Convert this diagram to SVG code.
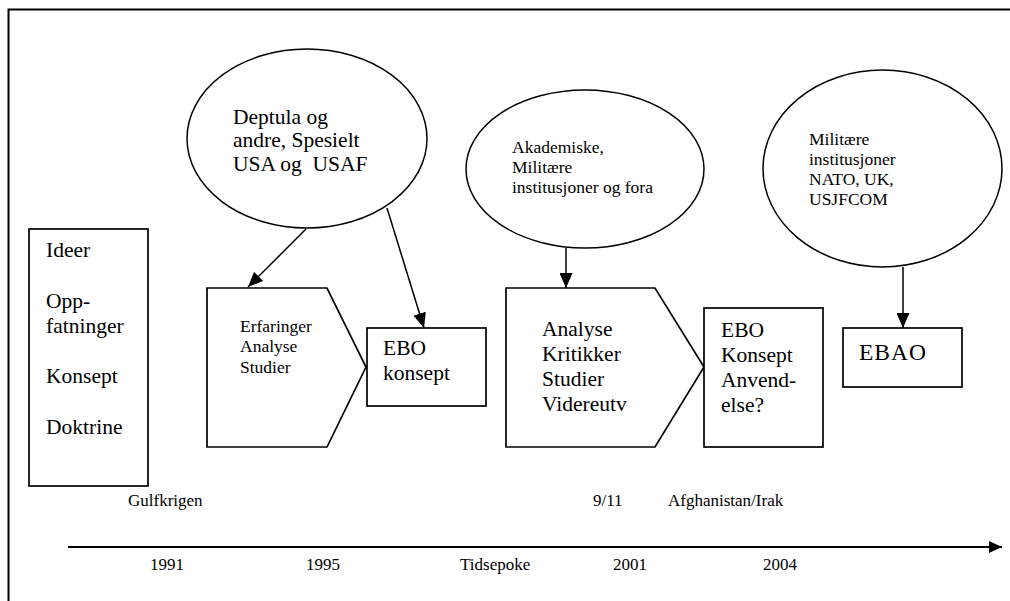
<svg xmlns="http://www.w3.org/2000/svg" width="1010" height="601" viewBox="0 0 1010 601">
  <style>
    .shape { fill: #ffffff; stroke: #000000; stroke-width: 1.7; }
    .oval { fill: #ffffff; stroke: #000000; stroke-width: 1.5; }
    .link { fill: none; stroke: #000000; stroke-width: 1.5; }
    .big { font-family: "Liberation Serif", "Times New Roman", serif; font-size: 21.5px; fill: #000000; }
    .small { font-family: "Liberation Serif", "Times New Roman", serif; font-size: 17.5px; fill: #000000; }
    .time { font-family: "Liberation Serif", "Times New Roman", serif; font-size: 17px; fill: #000000; }
  </style>
  <defs>
    <marker id="head" viewBox="0 0 10 10" refX="10" refY="5" markerWidth="15" markerHeight="13" markerUnits="userSpaceOnUse" orient="auto" preserveAspectRatio="none">
      <path d="M0,0 L10,5 L0,10 Z" fill="#000000"/>
    </marker>
    <marker id="axisHead" viewBox="0 0 10 10" refX="10" refY="5" markerWidth="13" markerHeight="12" markerUnits="userSpaceOnUse" orient="auto" preserveAspectRatio="none">
      <path d="M0,0 L10,5 L0,10 Z" fill="#000000"/>
    </marker>
  </defs>

  <rect width="1010" height="601" fill="#ffffff"/>

  <!-- page frame -->
  <path d="M8.5,601 L8.5,9.5 L1010,9.5" fill="none" stroke="#000000" stroke-width="2"/>

  <!-- connectors -->
  <g id="connectors">
    <line class="link" x1="306" y1="229" x2="248" y2="287" marker-end="url(#head)"/>
    <line class="link" x1="387" y1="208" x2="424" y2="328" marker-end="url(#head)"/>
    <line class="link" x1="566" y1="248" x2="566" y2="288" marker-end="url(#head)"/>
    <line class="link" x1="903" y1="267" x2="903" y2="328" marker-end="url(#head)"/>
    <line x1="68" y1="547" x2="1002" y2="547" stroke="#000000" stroke-width="2" marker-end="url(#axisHead)"/>
  </g>

  <g id="node-stages">
    <rect class="shape" x="29" y="229" width="119" height="257"/>
    <text class="big" x="46" y="257">Ideer</text>
    <text class="big" x="46" y="308">Opp-</text>
    <text class="big" x="46" y="333">fatninger</text>
    <text class="big" x="46" y="383">Konsept</text>
    <text class="big" x="46" y="434">Doktrine</text>
  </g>

  <g id="node-deptula">
    <ellipse class="oval" cx="307" cy="138.5" rx="120" ry="89.5"/>
    <text class="big" x="233" y="124">Deptula og</text>
    <text class="big" x="233" y="147">andre, Spesielt</text>
    <text class="big" x="233" y="171" xml:space="preserve">USA og  USAF</text>
  </g>

  <g id="node-erfaringer">
    <polygon class="shape" points="207,288 327,288 366,367 327,447 207,447"/>
    <text class="small" x="240" y="332">Erfaringer</text>
    <text class="small" x="240" y="352">Analyse</text>
    <text class="small" x="240" y="373">Studier</text>
  </g>

  <g id="node-ebo-konsept">
    <rect class="shape" x="367" y="328" width="119" height="78"/>
    <text class="big" x="383" y="355">EBO</text>
    <text class="big" x="383" y="380">konsept</text>
  </g>

  <g id="node-akademiske">
    <ellipse class="oval" cx="585" cy="169" rx="119" ry="79"/>
    <text class="small" x="512" y="153">Akademiske,</text>
    <text class="small" x="512" y="173">Militære</text>
    <text class="small" x="512" y="193">institusjoner og fora</text>
  </g>

  <g id="node-analyse">
    <polygon class="shape" points="506,288 655,288 704,367 655,447 506,447"/>
    <text class="big" x="542" y="336">Analyse</text>
    <text class="big" x="542" y="361">Kritikker</text>
    <text class="big" x="542" y="386">Studier</text>
    <text class="big" x="542" y="411">Videreutv</text>
  </g>

  <g id="node-anvendelse">
    <rect class="shape" x="704" y="308" width="119" height="139"/>
    <text class="big" x="721" y="337">EBO</text>
    <text class="big" x="721" y="362">Konsept</text>
    <text class="big" x="721" y="387">Anvend-</text>
    <text class="big" x="721" y="412">else?</text>
  </g>

  <g id="node-militaere">
    <ellipse class="oval" cx="882.5" cy="168.5" rx="119.5" ry="98.5"/>
    <text class="small" x="809" y="145">Militære</text>
    <text class="small" x="809" y="165">institusjoner</text>
    <text class="small" x="809" y="185">NATO, UK,</text>
    <text class="small" x="809" y="205">USJFCOM</text>
  </g>

  <g id="node-ebao">
    <rect class="shape" x="843" y="328" width="119" height="59"/>
    <text class="big" x="859" y="360" style="font-size:23.5px; letter-spacing:1px">EBAO</text>
  </g>

  <!-- events and years along the time axis -->
  <g id="timeline-labels">
    <text class="time" x="128" y="506">Gulfkrigen</text>
    <text class="time" x="593" y="506">9/11</text>
    <text class="time" x="668" y="506">Afghanistan/Irak</text>
    <text class="time" x="150" y="570">1991</text>
    <text class="time" x="306" y="570">1995</text>
    <text class="time" x="460" y="570">Tidsepoke</text>
    <text class="time" x="613" y="570">2001</text>
    <text class="time" x="763" y="570">2004</text>
  </g>
</svg>
